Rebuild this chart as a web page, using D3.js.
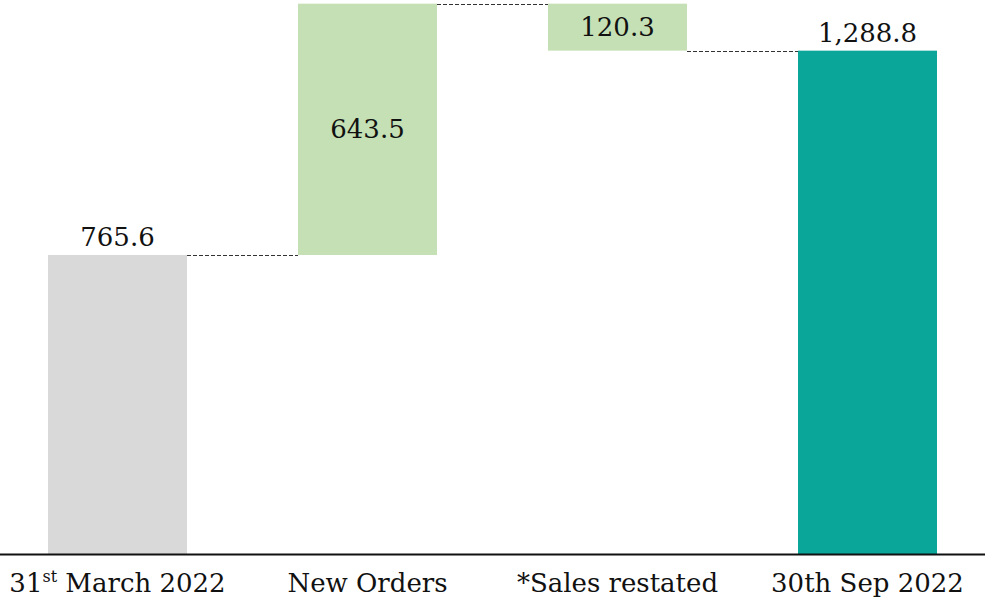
<!DOCTYPE html>
<meta charset="utf-8">
<html>
<head>
<style>
  body { margin: 0; background: #fff; }
  text { font-family: "DejaVu Serif", serif; fill: #111; }
</style>
</head>
<body>
<script src="https://d3js.org/d3.v7.min.js"></script>
<script>

// chart data
var categories = ["31st March 2022", "New Orders", "*Sales restated", "30th Sep 2022"];
var values = [765.6, 643.5, -120.3, 1288.8];
var kinds = ["total", "step", "step", "total"];
var valueLabels = ["765.6", "643.5", "120.3", "1,288.8"];
var colors = {"31st March 2022": "#d9d9d9", "New Orders": "#c5e0b4", "*Sales restated": "#c5e0b4", "30th Sep 2022": "#0aa69a"};

var width = 985, height = 600;
var baseY = 554;

var svg = d3.select("body").append("svg")
    .attr("width", width)
    .attr("height", height);

// work out start/end of each bar
var running = 0;
var bars = categories.map(function(c, i) {
  var d = {cat: c, label: valueLabels[i], kind: kinds[i]};
  if (kinds[i] == "total") {
    d.y0 = 0; d.y1 = values[i]; running = values[i];
  } else {
    d.y0 = running; d.y1 = running + values[i]; running = d.y1;
  }
  return d;
});

var x = d3.scaleBand()
    .domain(categories)
    .range([-7.5, 992.5])
    .paddingInner(0.444)
    .paddingOuter(0.222);

var y = d3.scaleLinear()
    .domain([0, 1418.5])
    .range([baseY, 0]);

svg.selectAll(".bar")
    .data(bars)
  .enter().append("rect")
    .attr("class", "bar")
    .attr("x", function(d) { return x(d.cat); })
    .attr("width", x.bandwidth())
    .attr("y", function(d) { return y(Math.max(d.y0, d.y1)); })
    .attr("height", function(d) { return Math.abs(y(d.y0) - y(d.y1)); })
    .attr("fill", function(d) { return colors[d.cat]; });

// dashed connectors
var links = bars.slice(0, -1).map(function(d, i) { return {from: d, to: bars[i + 1], v: d.y1}; });
svg.selectAll(".link")
    .data(links)
  .enter().append("line")
    .attr("class", "link")
    .attr("x1", function(d) { return x(d.from.cat) + x.bandwidth(); })
    .attr("x2", function(d) { return x(d.to.cat); })
    .attr("y1", function(d) { return Math.round(y(d.v)) + 0.5; })
    .attr("y2", function(d) { return Math.round(y(d.v)) + 0.5; })
    .attr("stroke", "#333")
    .attr("stroke-width", 1)
    .attr("stroke-dasharray", "4,2");

// value labels
svg.selectAll(".val")
    .data(bars)
  .enter().append("text")
    .attr("class", "val")
    .attr("x", function(d) { return x(d.cat) + x.bandwidth() / 2; })
    .attr("y", function(d) {
      if (d.kind == "total") return y(d.y1) - 9;
      return (y(d.y0) + y(d.y1)) / 2;
    })
    .attr("dy", function(d) { return d.kind == "total" ? 0 : "0.35em"; })
    .attr("text-anchor", "middle")
    .style("font-size", "26px")
    .text(function(d) { return d.label; });

// x axis
var xAxis = d3.axisBottom(x).tickSize(0).tickPadding(0).tickFormat("");
var gx = svg.append("g")
    .attr("transform", "translate(0," + baseY + ")")
    .call(xAxis);
gx.select(".domain").remove();
svg.append("line")
    .attr("x1", 0).attr("x2", width)
    .attr("y1", baseY + 0.5).attr("y2", baseY + 0.5)
    .attr("stroke", "#111")
    .attr("stroke-width", 2);

// category labels (first one has a superscript)
var cl = svg.selectAll(".cat")
    .data(categories)
  .enter().append("text")
    .attr("class", "cat")
    .attr("x", function(d) { return x(d) + x.bandwidth() / 2; })
    .attr("y", 592)
    .attr("text-anchor", "middle")
    .style("font-size", "26px");

cl.each(function(d) {
  var t = d3.select(this);
  var m = d.match(/^(\d+)(st|nd|rd)( .*)$/);
  if (m) {
    t.append("tspan").text(m[1]);
    t.append("tspan").attr("dy", -10).style("font-size", "16px").text(m[2]);
    t.append("tspan").attr("dy", 10).text(m[3]);
  } else {
    t.text(d);
  }
});

</script>
</body>
</html>
